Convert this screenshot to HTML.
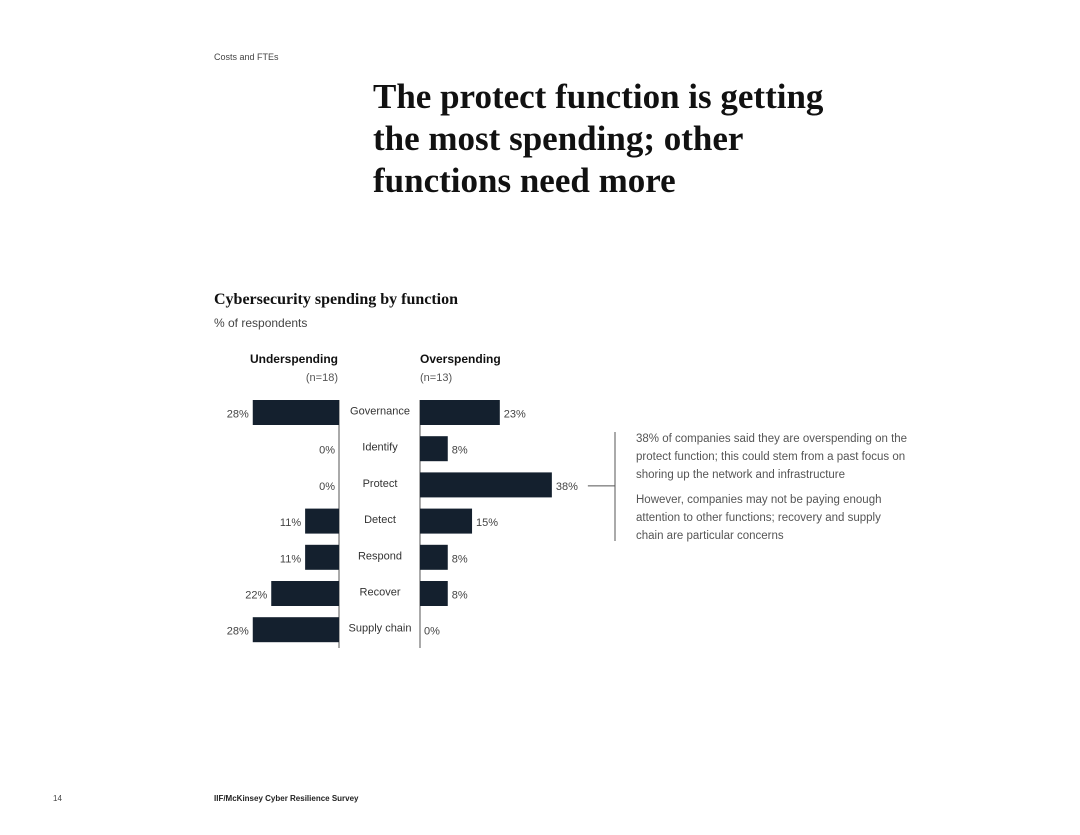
<!DOCTYPE html>
<html><head><meta charset="utf-8"><style>
body{margin:0;width:1080px;height:835px;background:#fff;position:relative;font-family:"Liberation Sans",sans-serif;color:#222;overflow:hidden}
.a{position:absolute;white-space:nowrap}
</style></head><body>
<div class="a" style="left:214px;top:52px;font-size:9px;color:#444">Costs and FTEs</div>
<div class="a" style="left:373px;top:76px;font-family:'Liberation Serif',serif;font-weight:bold;font-size:35px;line-height:42px;color:#111">The protect function is getting<br>the most spending; other<br>functions need more</div>
<div class="a" style="left:214px;top:291px;font-family:'Liberation Serif',serif;font-weight:bold;font-size:16px;color:#111">Cybersecurity spending by function</div>
<div class="a" style="left:214px;top:316px;font-size:12px;color:#444">% of respondents</div>
<svg class="a" style="left:0;top:0" width="1080" height="835" id="chart"></svg>
<div class="a" style="left:636px;top:430px;font-size:11.5px;line-height:18px;color:#555">38% of companies said they are overspending on the<br>protect function; this could stem from a past focus on<br>shoring up the network and infrastructure<div style="height:7px"></div>However, companies may not be paying enough<br>attention to other functions; recovery and supply<br>chain are particular concerns</div>
<div class="a" style="left:53px;top:794px;font-size:8px;color:#444">14</div>
<div class="a" style="left:214px;top:794px;font-size:8px;font-weight:bold;color:#222">IIF/McKinsey Cyber Resilience Survey</div>
<script>
const categories=["Governance","Identify","Protect","Detect","Respond","Recover","Supply chain"];
const underValues=[28,0,0,11,11,22,28];
const overValues=[23,8,38,15,8,8,0];
const underHeader=["Underspending","(n=18)"];
const overHeader=["Overspending","(n=13)"];
const svg=document.getElementById('chart');
const NS='http://www.w3.org/2000/svg';
const leftAxis=339,rightAxis=420,top0=400,pitch=36.2,barH=25;
const xL=v=>v*3.08, xR=v=>v*3.47;
const y=i=>top0+i*pitch;
function mk(t,a,txt){const e=document.createElementNS(NS,t);for(const k in a)e.setAttribute(k,a[k]);if(txt!=null)e.textContent=txt;svg.appendChild(e);return e;}
let e;
e=mk('line',{x1:leftAxis,x2:leftAxis,y1:top0,y2:648,stroke:'#555','stroke-width':1});

e=mk('line',{x1:rightAxis,x2:rightAxis,y1:top0,y2:648,stroke:'#555','stroke-width':1});

e=mk('text',{x:338,y:363,'text-anchor':'end','font-size':12,'font-weight':'bold',fill:'#111'},underHeader[0]);

e=mk('text',{x:338,y:381,'text-anchor':'end','font-size':11,fill:'#555'},underHeader[1]);

e=mk('text',{x:420,y:363,'font-size':12,'font-weight':'bold',fill:'#111'},overHeader[0]);

e=mk('text',{x:420,y:381,'font-size':11,fill:'#555'},overHeader[1]);

categories.forEach((c,i)=>{
 const yt=y(i),cy=yt+barH/2;
 e=mk('text',{x:380,y:cy+2,'text-anchor':'middle','font-size':11,fill:'#333'},c);
 
 const wl=xL(underValues[i]);
 if(wl>0){e=mk('rect',{x:leftAxis-wl,y:yt,width:wl,height:barH,fill:'#14202e'});
 }
 e=mk('text',{x:leftAxis-wl-4,y:cy+5,'text-anchor':'end','font-size':11,fill:'#444'},underValues[i]+'%');
 
 const wr=xR(overValues[i]);
 if(wr>0){e=mk('rect',{x:rightAxis,y:yt,width:wr,height:barH,fill:'#14202e'});
 }
 e=mk('text',{x:rightAxis+wr+4,y:cy+5,'font-size':11,fill:'#444'},overValues[i]+'%');
 
});
const pi=categories.indexOf('Protect');
const py=y(pi)+barH/2+1;
const px=rightAxis+xR(overValues[pi])+36;
e=mk('line',{x1:px,x2:615,y1:py,y2:py,stroke:'#555','stroke-width':1});

e=mk('line',{x1:615,x2:615,y1:432,y2:541,stroke:'#555','stroke-width':1});

</script>
</body></html>
